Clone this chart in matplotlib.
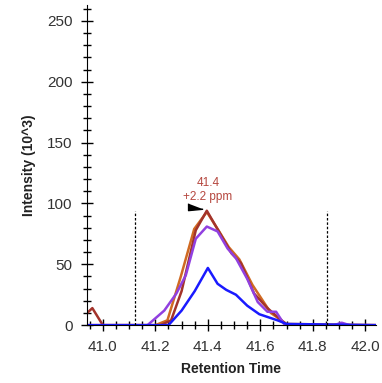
import numpy as np
import matplotlib.pyplot as plt
from matplotlib.ticker import MultipleLocator

plt.rcParams['font.family'] = ['Liberation Sans', 'DejaVu Sans']

# chromatogram traces (retention time, intensity in 10^3)
rt_brown = [40.94, 40.96, 41.00, 41.22, 41.26, 41.30, 41.354, 41.396, 41.45, 41.49, 41.526, 41.576, 41.627, 41.68, 41.70, 42.04]
int_brown = [10, 14, 0, 0, 4, 28, 78, 94, 74, 59, 51, 26, 14, 4, 0, 0]

rt_orange = [40.94, 41.20, 41.246, 41.297, 41.348, 41.396, 41.44, 41.48, 41.52, 41.57, 41.64, 41.70, 42.04]
int_orange = [0, 0, 4, 40, 79, 93, 78, 64, 54, 33, 10, 1, 0]

rt_purple = [40.94, 41.17, 41.234, 41.28, 41.316, 41.354, 41.396, 41.437, 41.475, 41.507, 41.55, 41.59, 41.627, 41.66, 41.69, 41.72, 41.88, 41.91, 41.94, 42.04]
int_purple = [0, 0, 12, 26, 41, 71, 81, 77, 63, 55, 38, 19, 11, 11, 1, 0, 0, 2, 0, 0]

rt_blue = [40.94, 41.25, 41.30, 41.35, 41.40, 41.437, 41.47, 41.507, 41.55, 41.596, 41.665, 41.70, 42.04]
int_blue = [0, 0, 12, 28, 47, 34, 29, 25, 16, 9, 4, 1, 0]

# integration boundaries and apex annotation
bounds = [41.122, 41.853]
bound_height = 94
apex_rt = 41.4
apex_label = '41.4\n+2.2 ppm'

fig = plt.figure(figsize=(3.82, 3.83), dpi=100)
ax = fig.add_axes([0.228, 0.151, 0.756, 0.836])

ax.plot(rt_orange, int_orange, color='#d06a22', lw=1.8)
ax.plot(rt_brown, int_brown, color='#a3332b', lw=1.8)
ax.plot(rt_purple, int_purple, color='#9140e0', lw=1.8)
ax.plot(rt_blue, int_blue, color='#1a1aff', lw=1.8)

for b in bounds:
    ax.plot([b, b], [0, bound_height], color='black', ls=(0, (2, 1.5)), lw=0.9)

# apex pointer
pointer = [(-1, 0.55), (-1, -0.45), (1.1, -0.25)]
ax.plot([apex_rt - 0.05], [97], marker=pointer, color='black', markersize=11, lw=0)
ax.text(apex_rt, 100, apex_label, color='#b5473f', fontsize=8.5,
        ha='center', va='bottom', linespacing=1.25)

ax.set_xlim(40.94, 42.04)
ax.set_ylim(0, 263)
ax.xaxis.set_major_locator(MultipleLocator(0.2))
ax.xaxis.set_minor_locator(MultipleLocator(0.05))
ax.yaxis.set_major_locator(MultipleLocator(50))
ax.yaxis.set_minor_locator(MultipleLocator(10))
ax.xaxis.set_major_formatter(plt.FuncFormatter(lambda v, p: f'{v:.1f}'))

for s in ['top', 'right']:
    ax.spines[s].set_visible(False)
ax.tick_params(which='major', direction='inout', length=9, width=1, labelsize=11, colors='black', labelcolor='#333333')
ax.tick_params(which='minor', direction='inout', length=6, width=1)
ax.tick_params(axis='x', pad=6)
ax.tick_params(axis='y', pad=6)

ax.set_xlabel('Retention Time', fontsize=10, fontweight='bold', labelpad=6, color='#222222')
ax.set_ylabel('Intensity (10^3)', fontsize=10, fontweight='bold', labelpad=8, color='#222222')

fig.savefig('out.png', dpi=100)
